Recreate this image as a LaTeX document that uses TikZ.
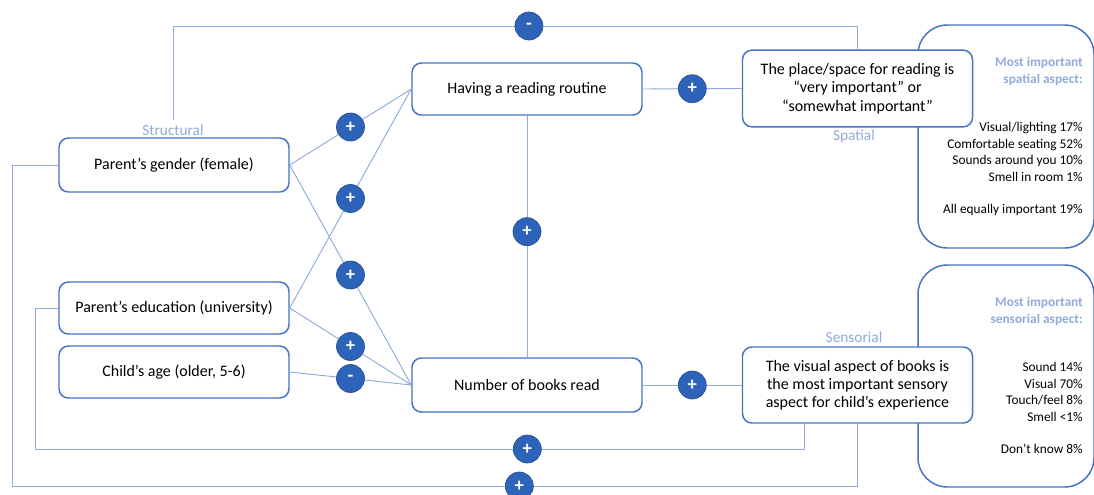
\documentclass[tikz,border=0pt]{standalone}
\usepackage{fontspec}
\setmainfont{Carlito}
\definecolor{linkblue}{HTML}{8FAADC}
\definecolor{boxblue}{HTML}{4472C4}
\definecolor{signblue}{HTML}{2E63BA}

\begin{document}
\begin{tikzpicture}[x=0.75pt,y=-0.75pt,
    box/.style={draw=boxblue,line width=1.1pt,fill=white,rounded corners=7pt,
      minimum width=172.5pt,minimum height=39pt,align=center,
      font=\fontsize{12}{14}\selectfont},
    link/.style={draw=linkblue,line width=0.7pt},
    sign/.style={circle,fill=signblue,draw=signblue!80!black,line width=0.5pt,
      minimum size=21pt,inner sep=0pt,text=white,
      font=\bfseries\fontsize{14}{14}\selectfont},
    grp/.style={text=linkblue,font=\fontsize{11.5}{13}\selectfont},
    panel/.style={draw=boxblue,line width=1.1pt,rounded corners=22pt},
    stats/.style={anchor=north east,align=right,inner sep=0pt,
      font=\fontsize{10}{12.4}\selectfont}]

  \useasboundingbox (0,0) rectangle (1094,494);

  \draw[panel] (918,25) rectangle (1094,248);
  \draw[panel] (918,265) rectangle (1094,487);

  \node[box,minimum height=40.5pt] (gender) at (174,165) {Parent’s gender (female)};
  \node[box] (edu) at (174,308) {Parent’s education (university)};
  \node[box] (age) at (174,372) {Child’s age (older, 5-6)};
  \node[box] (routine) at (527,89) {Having a reading routine};
  \node[box,minimum height=40.5pt] (books) at (527,385) {Number of books read};
  \node[box,minimum height=57.5pt,font=\fontsize{12}{13.7}\selectfont] (spatial) at (857.5,88.5)
    {The place/space for reading is\\“very important” or\\“somewhat important”};
  \node[box,minimum height=57pt,font=\fontsize{12}{13.7}\selectfont] (sensory) at (857.5,385)
    {The visual aspect of books is\\the most important sensory\\aspect for child’s experience};

  \node[grp] (struct) at (173,130) {Structural};
  \node[grp] (spat) at (854,136) {Spatial};
  \node[grp] (sens) at (854,337) {Sensorial};

  \node[stats] (spatstats) at (1083,57) {\textcolor{linkblue}{\bfseries Most important}\\
    \textcolor{linkblue}{\bfseries spatial aspect:}\\[24pt]
    Visual/lighting 17\%\\Comfortable seating 52\%\\Sounds around you 10\%\\
    Smell in room 1\%\\[12pt]All equally important 19\%};
  \node[stats] (sensstats) at (1083,297) {\textcolor{linkblue}{\bfseries Most important}\\
    \textcolor{linkblue}{\bfseries sensorial aspect:}\\[24pt]
    Sound 14\%\\Visual 70\%\\Touch/feel 8\%\\Smell <1\%\\[12pt]Don’t know 8\%};

  \draw[link] (gender.east) -- node[sign]{+} (routine.west);
  \draw[link] (gender.east) -- node[sign]{+} (books.west);
  \draw[link] (edu.east) -- node[sign]{+} (routine.west);
  \draw[link] (edu.east) -- node[sign]{+} (books.west);
  \draw[link] (age.east) -- node[sign]{-} (books.west);
  \draw[link] (routine.south) -- node[sign,pos=.48]{+} (books.north);
  \draw[link] (routine.east) -- node[sign]{+} (spatial.west);
  \draw[link] (books.east) -- node[sign]{+} (sensory.west);
  \draw[link] (struct.north) -- (173,26) -| node[sign,pos=.26]{-} (spatial.north);
  \draw[link] (gender.west) -| (12,486) -| node[sign,pos=.3]{+} (sensory.south);
  \draw[link] (edu.west) -| (35,449) -| node[sign,pos=.32]{+} ([xshift=-40pt]sensory.south);
\end{tikzpicture}
\end{document}
